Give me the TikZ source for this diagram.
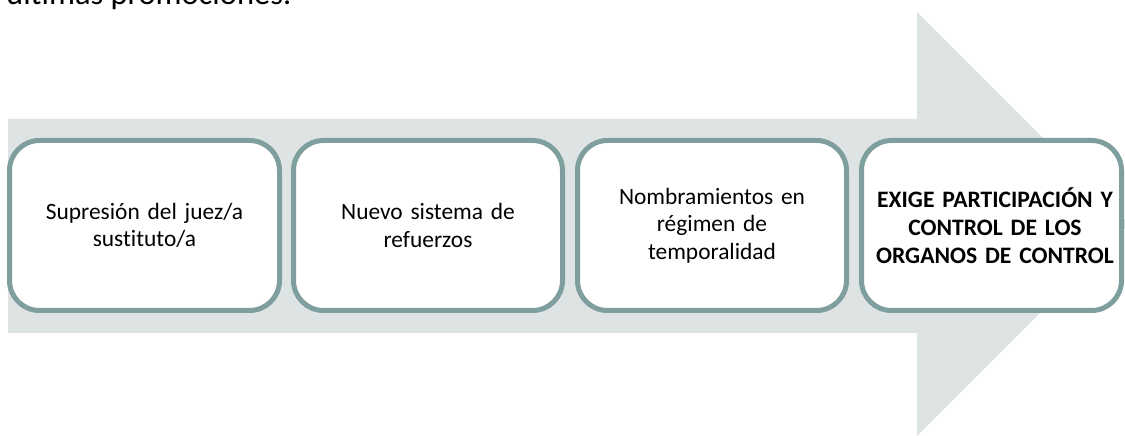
\documentclass[tikz,border=0pt]{standalone}
\usepackage{fontspec}
\setmainfont[Ligatures=NoCommon]{Carlito}
\definecolor{arrowfill}{HTML}{DDE4E3}
\definecolor{boxline}{HTML}{7F9E9E}
\begin{document}
\begin{tikzpicture}[x=1pt,y=1pt,
  stepbox/.style={draw=boxline, line width=5pt, fill=white, rounded corners=30pt},
  boxtext/.style={align=center, text width=250pt, font=\fontsize{23.4}{27.7}\selectfont},
]
\useasboundingbox (0,0) rectangle (1125,436);
\fill[white] (0,0) rectangle (1125,436);
% top text (cut at the top edge, as in the reference)
\node[anchor=base west, inner sep=0pt, font=\fontsize{32.5}{38}\selectfont] (toptext) at (6,431) {últimas promociones.};
% big arrow
\fill[arrowfill] (8,317) -- (917,317) -- (917,424) -- (1129,212) -- (917,0) -- (917,103) -- (8,103) -- cycle;
% boxes
\draw[stepbox] (9.5,125.5) rectangle (279.5,295.5);
\draw[stepbox] (293.5,125.5) rectangle (562.5,295.5);
\draw[stepbox] (577.5,125.5) rectangle (846.5,295.5);
\draw[stepbox] (861.5,125.5) rectangle (1121.5,295.5);
\node[boxtext] (b1) at (144.5,210.5) {Supresión del juez/a\\sustituto/a};
\node[boxtext] (b2) at (428,210.5) {Nuevo sistema de\\refuerzos};
\node[boxtext] (b3) at (712,210.5) {Nombramientos en\\régimen de\\temporalidad};
\node[boxtext, font=\fontsize{23.6}{27.7}\selectfont\bfseries] (b4) at (995,210.5) {EXIGE PARTICIPACIÓN Y\\CONTROL DE LOS\\ORGANOS DE CONTROL};
\end{tikzpicture}
\end{document}
